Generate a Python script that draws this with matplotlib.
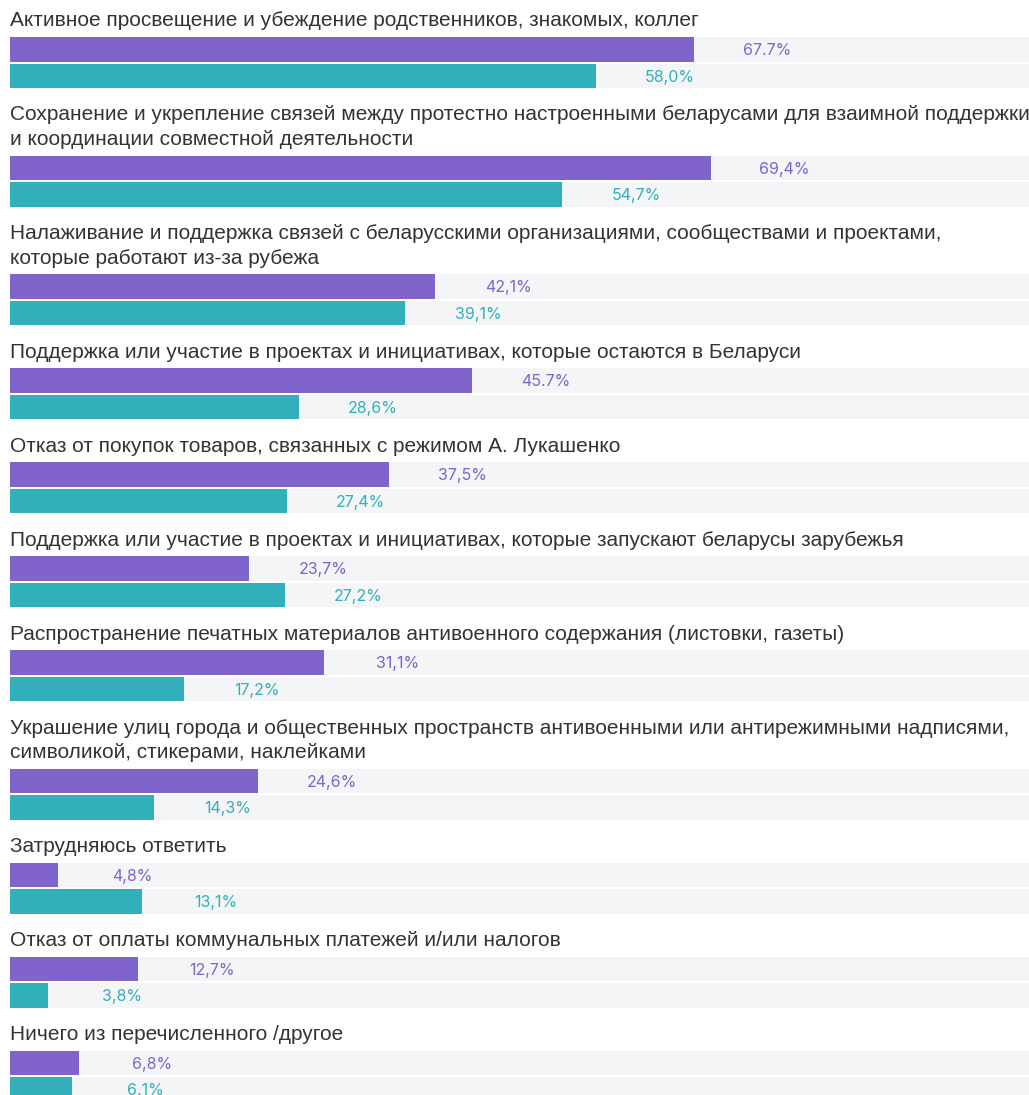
import matplotlib.pyplot as plt

titles = [
    "Активное просвещение и убеждение родственников, знакомых, коллег",
    "Сохранение и укрепление связей между протестно настроенными беларусами для взаимной поддержки\nи координации совместной деятельности",
    "Налаживание и поддержка связей с беларусскими организациями, сообществами и проектами,\nкоторые работают из-за рубежа",
    "Поддержка или участие в проектах и инициативах, которые остаются в Беларуси",
    "Отказ от покупок товаров, связанных с режимом А. Лукашенко",
    "Поддержка или участие в проектах и инициативах, которые запускают беларусы зарубежья",
    "Распространение печатных материалов антивоенного содержания (листовки, газеты)",
    "Украшение улиц города и общественных пространств антивоенными или антирежимными надписями,\nсимволикой, стикерами, наклейками",
    "Затрудняюсь ответить",
    "Отказ от оплаты коммунальных платежей и/или налогов",
    "Ничего из перечисленного /другое",
]
purple_vals = [67.7, 69.4, 42.1, 45.7, 37.5, 23.7, 31.1, 24.6, 4.8, 12.7, 6.8]
teal_vals = [58.0, 54.7, 39.1, 28.6, 27.4, 27.2, 17.2, 14.3, 13.1, 3.8, 6.1]
# these two labels are printed with a decimal point, the rest with a comma
dot_labels = {("p", 0), ("p", 3)}

PURPLE = "#8064cc"
TEAL = "#31b0bc"
TRACK = "#f4f5f7"
TEXT = "#333333"

W, H = 1029, 1095
fig = plt.figure(figsize=(W / 100, H / 100), dpi=100)
ax = fig.add_axes([10 / W, 0, 1 - 10 / W, 1])
xmax = 100.9
ax.set_xlim(0, xmax)
ax.set_ylim(H, 0)
ax.axis("off")


def fmt(v, key):
    s = f"{v:.1f}%"
    return s if key in dot_labels else s.replace(".", ",")


line_h = 24.5
bar_h = 24.5
gap = 2
pitch = 94          # single-line group height
title_to_bar = 16   # last title line centre -> top of first bar

top_p = 37
for i, t in enumerate(titles):
    lines = t.split("\n")
    if i > 0:
        top_p += pitch + line_h * (len(lines) - 1)
    y_last = top_p - title_to_bar
    for k, ln in enumerate(lines):
        ax.text(0, y_last - line_h * (len(lines) - 1 - k), ln, fontsize=15,
                color=TEXT, va="center", ha="left", family="Liberation Sans")
    top_t = top_p + bar_h + gap
    for top, v, col, key in [(top_p, purple_vals[i], PURPLE, ("p", i)),
                             (top_t, teal_vals[i], TEAL, ("t", i))]:
        ax.barh(top, xmax + 1, height=bar_h, align="edge", color=TRACK, lw=0)
        ax.barh(top, v, height=bar_h, align="edge", color=col, lw=0)
        ax.text(v + 7.3, top + bar_h / 2 + 1.5, fmt(v, key), color=col,
                fontsize=11.5, ha="center", va="center", family="Inter")

fig.savefig("out.png", dpi=100)
